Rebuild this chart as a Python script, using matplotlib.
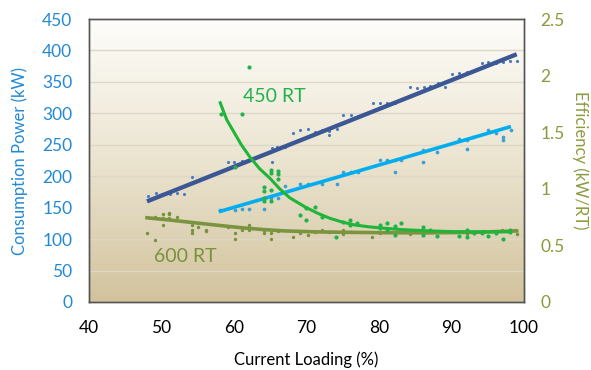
import matplotlib
matplotlib.use("Agg")
import matplotlib.pyplot as plt
import numpy as np
from matplotlib.colors import LinearSegmentedColormap

plt.rcParams["font.family"] = ["Lato", "DejaVu Sans"]

# consumption power scatter (kW) vs current loading (%)
DARK_X = [48.2, 49.2, 50.0, 51.2, 52.2, 53.1, 54.2, 56.2, 59.2, 60.0, 61.1, 62.2,
          65.2, 65.2, 65.9, 67.1, 68.1, 69.1, 70.2, 71.2, 72.1, 73.1, 73.1, 74.2,
          75.1, 76.1, 77.1, 79.2, 80.1, 81.1, 82.2, 84.3, 85.2, 86.2, 87.1, 88.2,
          89.1, 90.1, 91.1, 92.2, 94.2, 95.1, 96.1, 97.1, 98.1, 99.1]
DARK_Y = [168, 173, 172, 171, 173, 171, 198, 199, 223, 223, 224, 226,
          245, 223, 246, 247, 268, 273, 275, 270, 273, 272, 266, 275,
          297, 297, 295, 316, 316, 316, 317, 342, 341, 342, 343, 349,
          342, 362, 364, 365, 380, 382, 380, 382, 384, 384]

LIGHT_X = [58.1, 60.1, 61.1, 62.1, 64.1, 65.1, 66.1, 67.1, 69.1, 70.2, 72.1, 74.2,
           75.1, 76.1, 77.1, 80.1, 81.1, 82.2, 82.2, 83.1, 86.1, 86.1, 88.0, 91.1,
           92.1, 92.1, 93.0, 95.1, 96.1, 97.1, 97.1, 98.2]
LIGHT_Y = [147, 147, 148, 148, 148, 166, 166, 184, 188, 188, 188, 188,
           207, 207, 207, 226, 226, 207, 226, 226, 242, 223, 239, 259,
           243, 258, 262, 274, 268, 263, 258, 274]

# efficiency scatter (kW/RT)
GREEN_X = [58.2, 61.1, 62.1, 60.1, 64.1, 64.1, 64.1, 64.1, 65.1, 65.1, 65.1, 65.1,
           66.1, 66.1, 66.1, 69.1, 70.0, 70.0, 71.2, 72.1, 74.1, 75.1, 76.0, 76.0,
           77.0, 80.1, 80.1, 81.1, 81.1, 82.2, 82.2, 83.1, 86.1, 86.1, 87.1, 88.0,
           91.1, 92.1, 92.1, 93.1, 94.2, 95.1, 96.1, 97.1, 98.1, 98.1]
GREEN_Y = [1.66, 1.66, 2.08, 1.19, 1.02, 0.98, 0.92, 0.89, 1.17, 1.14, 0.99, 0.89,
           1.16, 1.13, 1.09, 0.77, 0.83, 0.72, 0.84, 0.75, 0.57, 0.71, 0.72, 0.68,
           0.70, 0.68, 0.65, 0.70, 0.64, 0.67, 0.59, 0.70, 0.665, 0.59, 0.64, 0.58,
           0.58, 0.64, 0.57, 0.61, 0.61, 0.58, 0.61, 0.56, 0.62, 0.64]

OLIVE_X = [48.0, 49.1, 49.1, 50.2, 50.2, 50.2, 51.1, 51.1, 51.1, 52.1, 54.2, 54.2,
           54.2, 55.1, 55.1, 56.2, 56.2, 59.2, 60.1, 60.1, 61.1, 62.1, 62.1, 64.1,
           64.1, 65.1, 65.1, 66.1, 68.2, 69.1, 70.2, 71.2, 72.1, 73.1, 75.1, 75.1,
           76.1, 79.1, 80.1, 82.2, 84.3, 86.1, 88.2, 90.1, 92.2, 94.4, 96.9, 98.8, 99.1]
OLIVE_Y = [0.61, 0.55, 0.75, 0.78, 0.74, 0.68, 0.78, 0.74, 0.79, 0.75, 0.64, 0.61,
           0.68, 0.70, 0.665, 0.64, 0.63, 0.66, 0.61, 0.56, 0.64, 0.68, 0.64, 0.64,
           0.61, 0.61, 0.56, 0.63, 0.57, 0.61, 0.59, 0.62, 0.64, 0.62, 0.64, 0.60,
           0.62, 0.57, 0.61, 0.62, 0.60, 0.61, 0.63, 0.62, 0.60, 0.63, 0.64, 0.64, 0.60]

# trend lines
DARK_TREND_X = [48, 99]
DARK_TREND_Y = [160, 394]
LIGHT_TREND_X = [57.9, 98.2]
LIGHT_TREND_Y = [143.5, 279]
GREEN_TREND_X = [58.1, 59, 60, 61, 62.2, 63.5, 65, 66.3, 67.7, 69.8, 71.5, 73.2,
                 75, 76.7, 78.5, 80.1, 83, 87, 90, 94, 98.1]
GREEN_TREND_Y = [1.76, 1.61, 1.50, 1.39, 1.28, 1.18, 1.09, 1.00, 0.92, 0.84, 0.785, 0.74,
                 0.705, 0.68, 0.665, 0.655, 0.64, 0.628, 0.622, 0.62, 0.62]
OLIVE_TREND_X = [48, 51, 54, 57, 61, 64, 67, 71, 75, 81, 87, 93, 99]
OLIVE_TREND_Y = [0.744, 0.725, 0.704, 0.683, 0.656, 0.640, 0.628, 0.620, 0.616,
                 0.612, 0.611, 0.615, 0.628]

X_TICKS = [40, 50, 60, 70, 80, 90, 100]
LEFT_TICKS = [0, 50, 100, 150, 200, 250, 300, 350, 400, 450]
RIGHT_TICKS = [0, 0.5, 1, 1.5, 2, 2.5]
RIGHT_TICK_LABELS = ["0", "0.5", "1", "1.5", "2", "2.5"]

BLUE_TXT = "#2389d5"
OLIVE_TXT = "#8c9a3f"

fig = plt.figure(figsize=(5.91, 3.70), dpi=100)
ax = fig.add_axes([0.1506, 0.1838, 0.7360, 0.7648])

bg = LinearSegmentedColormap.from_list("bg", ["#d2c39d", "#ebe4d0", "#fefdfa"])
ax.imshow(np.linspace(0, 1, 256).reshape(-1, 1), extent=[40, 100, 0, 450],
          cmap=bg, origin="lower", aspect="auto", zorder=0)
for y in LEFT_TICKS[1:-1]:
    ax.axhline(y, color="#ddd8c6", lw=1.0, zorder=1)

ax.scatter(DARK_X, DARK_Y, s=5, color="#4a78c0", zorder=3, linewidths=0)
ax.plot(DARK_TREND_X, DARK_TREND_Y, color="#3b5794", lw=3.1, zorder=4,
        solid_capstyle="butt")
ax.scatter(LIGHT_X, LIGHT_Y, s=7, color="#3f9fd0", zorder=3, linewidths=0)
ax.plot(LIGHT_TREND_X, LIGHT_TREND_Y, color="#00aeef", lw=2.6, zorder=4,
        solid_capstyle="butt")

ax.set_xlim(40, 100)
ax.set_ylim(0, 450)
ax.set_xticks(X_TICKS)
ax.set_yticks(LEFT_TICKS)
ax.tick_params(axis="both", length=0, labelsize=12.5)
ax.tick_params(axis="y", colors=BLUE_TXT, pad=12)
ax.tick_params(axis="x", pad=13)
for s in ax.spines.values():
    s.set_color("#555555")
    s.set_linewidth(1.0)
ax.set_xlabel("Current Loading (%)", fontsize=12, labelpad=11)
ax.set_ylabel("Consumption Power (kW)", fontsize=12, color=BLUE_TXT, labelpad=10)

ax2 = ax.twinx()
ax2.scatter(OLIVE_X, OLIVE_Y, s=6, color="#76923c", zorder=3, linewidths=0)
ax2.plot(OLIVE_TREND_X, OLIVE_TREND_Y, color="#7a9440", lw=2.6, zorder=4)
ax2.scatter(GREEN_X, GREEN_Y, s=9, color="#22b24c", zorder=5, linewidths=0)
ax2.plot(GREEN_TREND_X, GREEN_TREND_Y, color="#1fb53a", lw=2.2, zorder=6)
ax2.set_ylim(0, 2.5)
ax2.set_yticks(RIGHT_TICKS)
ax2.set_yticklabels(RIGHT_TICK_LABELS)
ax2.tick_params(axis="y", length=0, labelsize=12.5, colors=OLIVE_TXT, pad=12)
for s in ax2.spines.values():
    s.set_color("#555555")
    s.set_linewidth(1.0)
ax2.set_ylabel("Efficiency (kW/RT)", fontsize=12, color=OLIVE_TXT,
               rotation=270, labelpad=17)

ax2.text(61.2, 1.815, "450 RT", color="#22b24c", fontsize=14, ha="left", va="center")
ax2.text(48.9, 0.405, "600 RT", color="#77933c", fontsize=14, ha="left", va="center")

fig.savefig("out.png", dpi=100)
